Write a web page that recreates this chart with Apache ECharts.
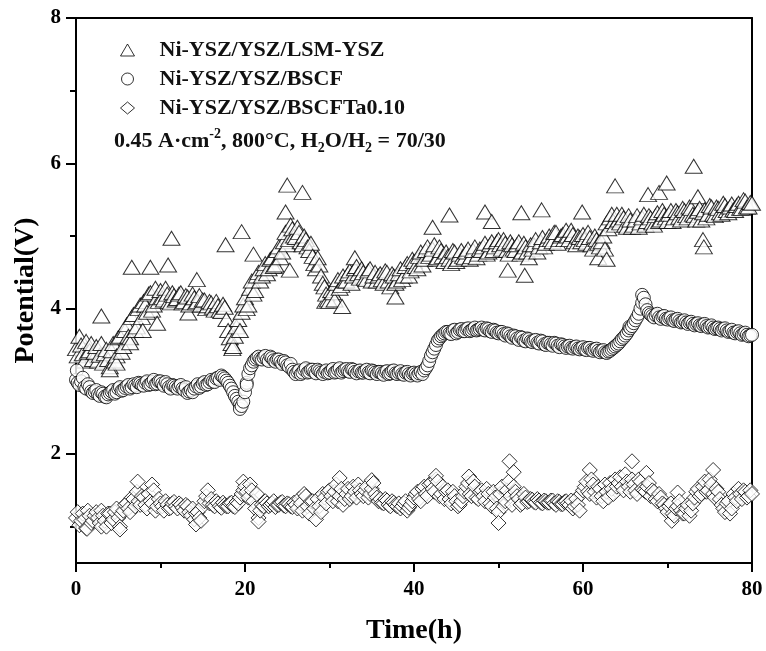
<!DOCTYPE html>
<html>
<head>
<meta charset="utf-8">
<script src="https://cdn.jsdelivr.net/npm/echarts@6/dist/echarts.min.js"></script>
<style>
  html, body { margin: 0; padding: 0; background: #fff; }
  #chart { width: 766px; height: 651px; }
</style>
</head>
<body>
<div id="chart"></div>
<script>
// Sampling times (h), first set of readings
const times = [
  0,0.4,0.8,1.2,1.6,2,2.4,2.8,3.2,3.6,
  4,4.4,4.8,5.2,5.6,6,6.4,6.8,7.2,7.6,
  8,8.4,8.8,9.2,9.6,10,10.4,10.8,11.2,11.6,
  12,12.4,12.8,13.2,13.6,14,14.4,14.8,15.2,15.6,
  16,16.4,16.8,17.2,17.6,18,18.4,18.8,19.2,19.6,
  20,20.4,20.8,21.2,21.6,22,22.4,22.8,23.2,23.6,
  24,24.4,24.8,25.2,25.6,26,26.4,26.8,27.2,27.6,
  28,28.4,28.8,29.2,29.6,30,30.4,30.8,31.2,31.6,
  32,32.4,32.8,33.2,33.6,34,34.4,34.8,35.2,35.6,
  36,36.4,36.8,37.2,37.6,38,38.4,38.8,39.2,39.6,
  40,40.4,40.8,41.2,41.6,42,42.4,42.8,43.2,43.6,
  44,44.4,44.8,45.2,45.6,46,46.4,46.8,47.2,47.6,
  48,48.4,48.8,49.2,49.6,50,50.4,50.8,51.2,51.6,
  52,52.4,52.8,53.2,53.6,54,54.4,54.8,55.2,55.6,
  56,56.4,56.8,57.2,57.6,58,58.4,58.8,59.2,59.6,
  60,60.4,60.8,61.2,61.6,62,62.4,62.8,63.2,63.6,
  64,64.4,64.8,65.2,65.6,66,66.4,66.8,67.2,67.6,
  68,68.4,68.8,69.2,69.6,70,70.4,70.8,71.2,71.6,
  72,72.4,72.8,73.2,73.6,74,74.4,74.8,75.2,75.6,
  76,76.4,76.8,77.2,77.6,78,78.4,78.8,79.2,79.6,
  80
];
// Sampling times (h), second set of readings
const timesB = [
  0.2,0.6,1.0,1.4,1.8,2.2,2.6,3.0,3.4,3.8,
  4.2,4.6,5.0,5.4,5.8,6.2,6.6,7.0,7.4,7.8,
  8.2,8.6,9.0,9.4,9.8,10.2,10.6,11.0,11.4,11.8,
  12.2,12.6,13.0,13.4,13.8,14.2,14.6,15.0,15.4,15.8,
  16.2,16.6,17.0,17.4,17.8,18.2,18.6,19.0,19.4,19.8,
  20.2,20.6,21.0,21.4,21.8,22.2,22.6,23.0,23.4,23.8,
  24.2,24.6,25.0,25.4,25.8,26.2,26.6,27.0,27.4,27.8,
  28.2,28.6,29.0,29.4,29.8,30.2,30.6,31.0,31.4,31.8,
  32.2,32.6,33.0,33.4,33.8,34.2,34.6,35.0,35.4,35.8,
  36.2,36.6,37.0,37.4,37.8,38.2,38.6,39.0,39.4,39.8,
  40.2,40.6,41.0,41.4,41.8,42.2,42.6,43.0,43.4,43.8,
  44.2,44.6,45.0,45.4,45.8,46.2,46.6,47.0,47.4,47.8,
  48.2,48.6,49.0,49.4,49.8,50.2,50.6,51.0,51.4,51.8,
  52.2,52.6,53.0,53.4,53.8,54.2,54.6,55.0,55.4,55.8,
  56.2,56.6,57.0,57.4,57.8,58.2,58.6,59.0,59.4,59.8,
  60.2,60.6,61.0,61.4,61.8,62.2,62.6,63.0,63.4,63.8,
  64.2,64.6,65.0,65.4,65.8,66.2,66.6,67.0,67.4,67.8,
  68.2,68.6,69.0,69.4,69.8,70.2,70.6,71.0,71.4,71.8,
  72.2,72.6,73.0,73.4,73.8,74.2,74.6,75.0,75.4,75.8,
  76.2,76.6,77.0,77.4,77.8,78.2,78.6,79.0,79.4,79.8
];

// Cell potential (V), Ni-YSZ/YSZ/LSM-YSZ
const lsmYsz = [
  3.45,3.62,3.38,3.55,3.42, 3.30,3.48,3.36,3.25,3.44,
  3.20,3.52,3.35,3.62,3.48, 3.78,3.60,3.92,3.75,4.05,
  4.10,3.95,4.22,4.05,4.15, 4.25,4.12,4.20,4.08,4.18,
  4.14,4.22,4.10,4.16,4.08, 4.15,4.10,4.05,4.12,4.04,
  4.08,3.98,4.04,3.96,4.02, 3.70,3.52,3.62,3.85,3.95,
  4.15,4.05,4.38,4.25,4.50, 4.45,4.62,4.55,4.70,4.60,
  4.85,4.78,5.05,4.95,5.10, 4.98,5.05,4.88,4.95,4.80,
  4.72,4.55,4.60,4.35,4.20, 4.10,4.22,4.35,4.28,4.45,
  4.38,4.52,4.45,4.58,4.42, 4.50,4.40,4.55,4.45,4.38,
  4.48,4.35,4.50,4.30,4.45, 4.38,4.55,4.45,4.62,4.52,
  4.65,4.55,4.78,4.68,4.85, 4.75,4.88,4.70,4.80,4.65,
  4.72,4.62,4.78,4.68,4.80, 4.70,4.82,4.72,4.85,4.75,
  4.80,4.90,4.78,4.92,4.85, 4.95,4.82,4.90,4.75,4.88,
  4.80,4.92,4.78,4.85,4.70, 4.82,4.95,4.85,4.98,4.90,
  5.00,4.92,5.05,4.95,5.02, 5.08,4.95,5.02,4.88,4.98,
  5.02,4.90,4.98,4.82,4.95, 4.85,5.00,5.18,5.25,5.20,
  5.30,5.18,5.25,5.12,5.22, 5.15,5.28,5.18,5.30,5.20,
  5.25,5.15,5.32,5.22,5.30, 5.20,5.35,5.25,5.32,5.22,
  5.35,5.25,5.38,5.28,5.34, 5.22,5.36,5.30,5.40,5.28,
  5.38,5.30,5.42,5.32,5.44, 5.35,5.45,5.38,5.48,5.40,
  5.45
];
const lsmYszB = [
  3.35,3.50,3.28,3.40,3.52, 3.40,3.28,3.52,3.38,3.30,
  3.42,3.28,3.60,3.40,3.70, 3.62,3.88,3.70,4.00,3.88,
  4.05,4.20,3.98,4.28,4.10, 4.15,4.28,4.10,4.22,4.12,
  4.20,4.08,4.18,4.05,4.20, 4.08,4.18,4.12,4.00,4.10,
  4.02,4.10,3.98,4.06,3.85, 3.60,3.48,3.75,3.70,4.05,
  4.00,4.28,4.20,4.45,4.38, 4.55,4.48,4.68,4.58,4.80,
  4.70,4.92,4.88,5.15,5.00, 5.12,4.92,5.00,4.85,4.90,
  4.62,4.70,4.45,4.30,4.12, 4.25,4.12,4.40,4.32,4.38,
  4.48,4.35,4.55,4.48,4.55, 4.42,4.52,4.38,4.50,4.45,
  4.40,4.52,4.38,4.48,4.35, 4.48,4.40,4.58,4.45,4.68,
  4.58,4.72,4.60,4.80,4.72, 4.82,4.68,4.85,4.72,4.78,
  4.68,4.80,4.65,4.75,4.72, 4.78,4.68,4.80,4.70,4.82,
  4.85,4.75,4.88,4.80,4.92, 4.88,4.95,4.80,4.92,4.82,
  4.88,4.75,4.90,4.78,4.88, 4.88,4.78,4.92,4.85,4.95,
  4.95,5.05,4.90,5.00,4.95, 5.00,5.08,4.92,5.00,4.92,
  4.95,5.05,4.88,5.00,4.90, 4.92,4.82,5.10,5.30,5.15,
  5.22,5.30,5.15,5.28,5.12, 5.22,5.12,5.25,5.15,5.28,
  5.18,5.28,5.20,5.35,5.25, 5.30,5.20,5.35,5.26,5.38,
  5.28,5.40,5.30,5.22,5.38, 5.32,5.25,5.42,5.30,5.40,
  5.32,5.45,5.35,5.40,5.36, 5.42,5.38,5.50,5.40,5.46
];
const lsmYszScatter = [
  [3.0,3.90],[4.0,3.16],[4.8,3.25],[6.4,3.53],[6.6,4.57],[7.9,3.70],[8.8,4.57],
  [9.6,3.80],[10.9,4.60],[11.3,4.97],[13.3,3.94],[14.3,4.40],[17.7,4.88],[18.5,3.45],
  [19.6,5.06],[21.0,4.75],[24.8,5.33],[25.0,5.70],[25.3,4.53],[26.8,5.60],[29.5,4.10],
  [31.5,4.03],[33.0,4.70],[37.8,4.16],[42.2,5.12],[44.2,5.29],[48.4,5.33],[49.2,5.20],
  [51.1,4.53],[52.7,5.32],[53.1,4.46],[55.1,5.36],[59.9,5.33],[61.8,4.70],[62.8,4.68],
  [63.8,5.69],[67.7,5.57],[69.0,5.60],[69.9,5.73],[73.1,5.96],[73.6,5.54],[74.2,4.95],[74.3,4.85]
];

// Cell potential (V), Ni-YSZ/YSZ/BSCF
const bscf = [
  3.02,2.95,3.05,2.90,2.92, 2.84,2.88,2.80,2.83,2.78,
  2.84,2.88,2.85,2.92,2.88, 2.93,2.90,2.96,2.92,2.97,
  2.94,3.00,2.96,3.02,2.97, 3.00,2.94,2.96,2.90,2.94,
  2.90,2.95,2.88,2.84,2.88, 2.90,2.96,2.93,2.99,2.96,
  3.02,2.99,3.05,3.08,3.04, 2.98,2.90,2.80,2.72,2.66,
  2.85,3.10,3.22,3.30,3.34, 3.30,3.35,3.28,3.32,3.27,
  3.30,3.24,3.26,3.20,3.16, 3.10,3.15,3.12,3.18,3.13,
  3.16,3.11,3.14,3.10,3.15, 3.12,3.17,3.13,3.18,3.14,
  3.17,3.13,3.16,3.11,3.15, 3.12,3.16,3.11,3.14,3.10,
  3.13,3.09,3.14,3.11,3.15, 3.10,3.14,3.09,3.13,3.08,
  3.12,3.08,3.13,3.15,3.22, 3.35,3.45,3.56,3.62,3.66,
  3.68,3.65,3.71,3.68,3.72, 3.69,3.73,3.70,3.74,3.71,
  3.74,3.70,3.72,3.68,3.70, 3.66,3.68,3.63,3.65,3.60,
  3.62,3.57,3.60,3.55,3.58, 3.54,3.57,3.52,3.55,3.50,
  3.53,3.49,3.52,3.47,3.50, 3.46,3.49,3.45,3.48,3.44,
  3.47,3.43,3.46,3.42,3.45, 3.40,3.43,3.39,3.42,3.46,
  3.50,3.55,3.60,3.66,3.73, 3.80,3.88,4.00,4.15,3.98,
  3.92,3.88,3.93,3.86,3.90, 3.85,3.88,3.83,3.86,3.81,
  3.84,3.79,3.82,3.77,3.80, 3.76,3.79,3.74,3.77,3.72,
  3.74,3.70,3.73,3.68,3.71, 3.66,3.69,3.64,3.67,3.62,
  3.64
];
const bscfB = [
  2.98,3.00,2.92,2.96,2.86, 2.86,2.82,2.85,2.79,2.82,
  2.86,2.83,2.90,2.87,2.91, 2.95,2.92,2.94,2.98,2.95,
  2.98,2.95,2.99,2.96,3.00, 2.97,2.99,2.92,2.95,2.92,
  2.93,2.90,2.92,2.86,2.85, 2.93,2.91,2.97,2.95,2.99,
  3.00,3.04,3.02,3.06,3.01, 2.94,2.85,2.76,2.68,2.72,
  2.98,3.18,3.27,3.32,3.31, 3.33,3.30,3.34,3.29,3.30,
  3.27,3.28,3.22,3.24,3.13, 3.13,3.10,3.16,3.12,3.16,
  3.13,3.16,3.12,3.13,3.11, 3.15,3.12,3.16,3.12,3.16,
  3.14,3.17,3.13,3.14,3.12, 3.14,3.12,3.15,3.12,3.13,
  3.11,3.13,3.10,3.14,3.11, 3.12,3.10,3.12,3.10,3.11,
  3.10,3.11,3.10,3.18,3.28, 3.40,3.50,3.59,3.64,3.68,
  3.66,3.70,3.66,3.71,3.69, 3.72,3.69,3.72,3.70,3.72,
  3.71,3.73,3.69,3.71,3.67, 3.68,3.65,3.66,3.62,3.63,
  3.59,3.61,3.56,3.59,3.55, 3.56,3.53,3.56,3.51,3.53,
  3.51,3.53,3.49,3.51,3.48, 3.48,3.46,3.47,3.45,3.46,
  3.44,3.46,3.43,3.44,3.42, 3.42,3.40,3.41,3.44,3.48,
  3.52,3.58,3.63,3.70,3.76, 3.84,3.93,4.08,4.06,3.94,
  3.90,3.91,3.88,3.89,3.86, 3.87,3.84,3.85,3.83,3.82,
  3.81,3.81,3.79,3.79,3.77, 3.78,3.76,3.75,3.74,3.73,
  3.72,3.72,3.70,3.69,3.67, 3.68,3.66,3.65,3.64,3.63
];
const bscfScatter = [
  [0.1,3.15],[19.4,2.62],[20.2,2.95],[65.5,3.75],[67.0,4.19]
];

// Cell potential (V), Ni-YSZ/YSZ/BSCFTa0.10
const bscfTa = [
  1.12,1.02,1.18,0.98,1.15, 1.08,1.20,1.05,1.15,1.00,
  1.18,1.10,1.25,1.00,1.22, 1.32,1.20,1.38,1.48,1.30,
  1.40,1.25,1.35,1.50,1.28, 1.32,1.22,1.30,1.26,1.34,
  1.25,1.30,1.22,1.28,1.15, 1.10,1.20,1.08,1.35,1.50,
  1.38,1.28,1.32,1.26,1.30, 1.28,1.33,1.27,1.32,1.45,
  1.55,1.40,1.50,1.25,1.12, 1.30,1.35,1.28,1.32,1.27,
  1.30,1.34,1.28,1.31,1.27, 1.30,1.38,1.22,1.42,1.18,
  1.35,1.10,1.28,1.45,1.32, 1.50,1.35,1.58,1.42,1.30,
  1.45,1.38,1.55,1.40,1.50, 1.42,1.55,1.45,1.60,1.40,
  1.38,1.32,1.36,1.28,1.33, 1.28,1.25,1.32,1.22,1.30,
  1.40,1.48,1.35,1.55,1.42, 1.60,1.48,1.62,1.45,1.38,
  1.50,1.32,1.42,1.28,1.35, 1.48,1.60,1.42,1.55,1.38,
  1.50,1.35,1.45,1.28,1.40, 1.20,1.55,1.35,1.62,1.30,
  1.48,1.38,1.32,1.40,1.35, 1.37,1.33,1.36,1.32,1.35,
  1.33,1.36,1.30,1.34,1.31, 1.35,1.30,1.25,1.38,1.22,
  1.50,1.62,1.45,1.58,1.40, 1.52,1.35,1.48,1.60,1.45,
  1.55,1.68,1.50,1.62,1.48, 1.58,1.45,1.62,1.50,1.55,
  1.42,1.48,1.35,1.40,1.30, 1.20,1.32,1.15,1.28,1.22,
  1.18,1.30,1.22,1.40,1.52, 1.45,1.62,1.50,1.58,1.40,
  1.48,1.30,1.20,1.35,1.25, 1.40,1.52,1.38,1.48,1.42,
  1.45
];
const bscfTaB = [
  1.20,1.08,1.10,1.22,1.05, 1.15,1.12,1.22,1.08,1.18,
  1.05,1.20,1.12,1.18,1.30, 1.25,1.40,1.28,1.35,1.42,
  1.30,1.45,1.32,1.22,1.38, 1.28,1.35,1.25,1.32,1.28,
  1.32,1.26,1.30,1.20,1.25, 1.18,1.12,1.28,1.42,1.32,
  1.30,1.35,1.28,1.33,1.28, 1.32,1.28,1.34,1.40,1.50,
  1.48,1.58,1.35,1.45,1.22, 1.28,1.32,1.30,1.35,1.30,
  1.33,1.29,1.32,1.28,1.33, 1.25,1.32,1.45,1.28,1.35,
  1.25,1.38,1.20,1.40,1.48, 1.42,1.48,1.35,1.52,1.38,
  1.52,1.42,1.48,1.58,1.45, 1.50,1.40,1.52,1.45,1.35,
  1.33,1.38,1.30,1.35,1.30, 1.32,1.28,1.35,1.26,1.35,
  1.45,1.38,1.52,1.45,1.58, 1.52,1.65,1.42,1.55,1.48,
  1.38,1.48,1.35,1.30,1.42, 1.55,1.45,1.62,1.40,1.48,
  1.42,1.52,1.32,1.48,1.25, 1.45,1.28,1.50,1.42,1.55,
  1.42,1.30,1.45,1.34,1.38, 1.34,1.38,1.33,1.36,1.33,
  1.36,1.32,1.35,1.31,1.34, 1.32,1.36,1.28,1.30,1.45,
  1.55,1.48,1.65,1.48,1.55, 1.42,1.58,1.40,1.52,1.65,
  1.60,1.55,1.72,1.55,1.65, 1.50,1.65,1.52,1.48,1.60,
  1.50,1.38,1.45,1.32,1.25, 1.28,1.18,1.25,1.35,1.18,
  1.25,1.15,1.32,1.48,1.42, 1.55,1.48,1.65,1.45,1.52,
  1.38,1.25,1.32,1.18,1.45, 1.35,1.45,1.50,1.40,1.50
];
const bscfTaScatter = [
  [1.3,0.97],[3.0,1.00],[5.2,0.96],[7.3,1.62],[9.0,1.58],[14.2,1.03],[19.8,1.62],
  [21.6,1.07],[31.2,1.67],[35.0,1.64],[42.6,1.70],[46.5,1.69],[50.0,1.05],[51.3,1.90],
  [51.8,1.75],[60.8,1.78],[65.8,1.90],[67.5,1.74],[70.5,1.08],[71.2,1.47],[75.4,1.78]
];

const seriesNames = ['Ni-YSZ/YSZ/LSM-YSZ', 'Ni-YSZ/YSZ/BSCF', 'Ni-YSZ/YSZ/BSCFTa0.10'];
const xTicks = { min: 0, max: 80, step: 20 };
const yMajorTicks = [2, 4, 6, 8];
const yMinorTicks = [1, 3, 5, 7];

const SERIF = '"Liberation Serif", "Times New Roman", serif';
const INK = '#000';

// Merge both reading sets and the stray points, in time order
function readings(valuesA, valuesB, extra) {
  const pts = times.map((t, i) => [t, valuesA[i]])
    .concat(timesB.map((t, i) => [t, valuesB[i]]))
    .concat(extra);
  return pts.sort((p, q) => p[0] - q[0]);
}

const markerStyle = { color: '#fff', borderColor: INK, borderWidth: 1 };

const chart = echarts.init(document.getElementById('chart'), null, { renderer: 'canvas' });

chart.setOption({
  animation: false,
  backgroundColor: '#fff',
  grid: { left: 76, right: 14, top: 18, bottom: 88 },
  legend: {
    orient: 'vertical',
    left: 120,
    top: 39,
    padding: 0,
    itemGap: 7,
    itemWidth: 14,
    itemHeight: 12,
    selectedMode: false,
    data: seriesNames,
    itemStyle: { color: '#fff', borderColor: INK, borderWidth: 1 },
    textStyle: {
      fontFamily: SERIF, fontWeight: 'bold', fontSize: 22, color: '#111',
      lineHeight: 22, padding: [0, 0, 0, 20]
    }
  },
  graphic: [{
    type: 'text',
    left: 114,
    top: 127,
    style: {
      text: '{a|0.45 A·cm}{sup|-2}{a|, 800°C, H}{sub|2}{a|O/H}{sub|2}{a| = 70/30}',
      rich: {
        a: { fontFamily: SERIF, fontWeight: 'bold', fontSize: 22, lineHeight: 28, fill: '#111', verticalAlign: 'middle' },
        sup: { fontFamily: SERIF, fontWeight: 'bold', fontSize: 14, lineHeight: 18, fill: '#111', verticalAlign: 'top' },
        sub: { fontFamily: SERIF, fontWeight: 'bold', fontSize: 14, lineHeight: 16, fill: '#111', verticalAlign: 'bottom' }
      }
    }
  }],
  xAxis: [{
    type: 'value',
    position: 'bottom',
    min: xTicks.min, max: xTicks.max, interval: xTicks.step,
    axisLine: { show: true, lineStyle: { color: INK, width: 2 } },
    axisTick: { show: true, inside: false, length: 9, lineStyle: { color: INK, width: 2 } },
    minorTick: { show: true, splitNumber: 2, length: 5, lineStyle: { color: INK, width: 2 } },
    splitLine: { show: false },
    axisLabel: { color: INK, fontFamily: SERIF, fontWeight: 'bold', fontSize: 21, margin: 16 },
    name: 'Time(h)',
    nameLocation: 'middle',
    nameGap: 54,
    nameTextStyle: { color: INK, fontFamily: SERIF, fontWeight: 'bold', fontSize: 28 }
  }, {
    type: 'value',
    position: 'top',
    min: xTicks.min, max: xTicks.max, interval: xTicks.step,
    axisLine: { show: true, lineStyle: { color: INK, width: 2 } },
    axisTick: { show: false },
    axisLabel: { show: false },
    splitLine: { show: false }
  }],
  yAxis: [{
    type: 'value',
    position: 'left',
    min: 0.5, max: 8,
    axisLine: { show: true, lineStyle: { color: INK, width: 2 } },
    axisTick: { show: true, inside: false, length: 10, customValues: yMajorTicks, lineStyle: { color: INK, width: 2 } },
    splitLine: { show: false },
    axisLabel: { customValues: yMajorTicks, color: INK, fontFamily: SERIF, fontWeight: 'bold', fontSize: 21, margin: 15 },
    name: 'Potential(V)',
    nameLocation: 'middle',
    nameGap: 34,
    nameRotate: 90,
    nameTextStyle: { color: INK, fontFamily: SERIF, fontWeight: 'bold', fontSize: 28 }
  }, {
    type: 'value',
    position: 'left',
    min: 0.5, max: 8,
    axisLine: { show: false },
    axisTick: { show: true, inside: false, length: 6, customValues: yMinorTicks, lineStyle: { color: INK, width: 2 } },
    axisLabel: { show: false },
    splitLine: { show: false }
  }, {
    type: 'value',
    position: 'right',
    min: 0.5, max: 8,
    axisLine: { show: true, lineStyle: { color: INK, width: 2 } },
    axisTick: { show: false },
    axisLabel: { show: false },
    splitLine: { show: false }
  }],
  series: [{
    name: seriesNames[0],
    type: 'scatter',
    symbol: 'triangle',
    symbolSize: [17, 14],
    itemStyle: markerStyle,
    clip: true,
    data: readings(lsmYsz, lsmYszB, lsmYszScatter)
  }, {
    name: seriesNames[1],
    type: 'scatter',
    symbol: 'circle',
    symbolSize: 13,
    itemStyle: markerStyle,
    clip: true,
    data: readings(bscf, bscfB, bscfScatter)
  }, {
    name: seriesNames[2],
    type: 'scatter',
    symbol: 'diamond',
    symbolSize: 15,
    itemStyle: markerStyle,
    clip: true,
    data: readings(bscfTa, bscfTaB, bscfTaScatter)
  }]
});
</script>
</body>
</html>
